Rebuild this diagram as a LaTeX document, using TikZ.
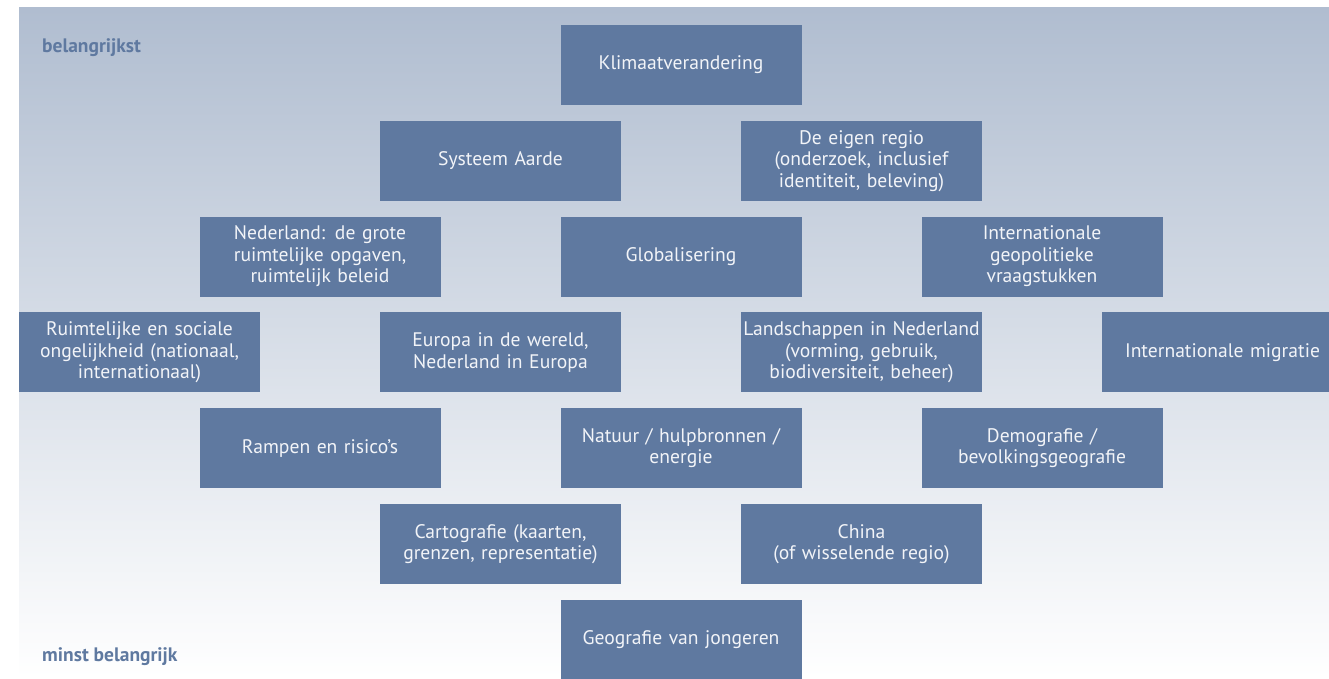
\documentclass[tikz,border=0pt]{standalone}
\usepackage{fontspec}
\setmainfont{PT Sans}
\usetikzlibrary{positioning}
\definecolor{boxblue}{HTML}{5F79A0}
\definecolor{boxtext}{HTML}{F2F4F8}
\definecolor{bgtop}{HTML}{B0BDD0}
\definecolor{bgmid}{HTML}{D3D9E5}
\tikzset{
  % topic box style
  topic/.style={
    fill=boxblue
    , text=boxtext
    , inner sep=0pt
    , minimum width=241pt
    , minimum height=80pt
    , text width=240pt
    , align=center
    , anchor=center
    , font=\fontsize{19.6}{21.5}\selectfont
  },
  % scale label style
  scalelbl/.style={
    text=boxblue
    , anchor=west
    , inner sep=0pt
    , font=\fontsize{19.5}{22}\selectfont\bfseries
  },
}
\begin{document}
\begin{tikzpicture}[node distance=95.8pt]
  \useasboundingbox (0,0) rectangle (1329pt,678pt);
  \clip (0,0) rectangle (1329pt,678pt);
  \shade[top color=bgtop, middle color=bgmid, bottom color=white] (19pt,0) rectangle (1329pt,670pt);

  \node[scalelbl] (top) at (42pt,630pt) {belangrijkst};
  \node[scalelbl] (bot) at (42pt,21pt) {minst belangrijk};

  \node[topic] (klim) at (681pt,613pt) {Klimaatverandering};
  \node[topic, below of=klim, xshift=-180.5pt] (sa) {Systeem Aarde};
  \node[topic, below of=klim, xshift=180.5pt] (er) {De eigen regio\\(onderzoek, inclusief\\identiteit, beleving)};
  \node[topic, below of=sa, xshift=-180.5pt] (nl) {Nederland: de grote\\ruimtelijke opgaven,\\ruimtelijk beleid};
  \node[topic, below of=sa, xshift=180.5pt] (glob) {Globalisering};
  \node[topic, below of=er, xshift=180.5pt] (gp) {Internationale\\geopolitieke\\vraagstukken};
  \node[topic, below of=nl, xshift=-180.5pt] (ro) {Ruimtelijke en sociale\\ongelijkheid (nationaal,\\internationaal)};
  \node[topic, below of=nl, xshift=180.5pt] (eu) {Europa in de wereld,\\Nederland in Europa};
  \node[topic, below of=glob, xshift=180.5pt] (la) {Landschappen in Nederland\\(vorming, gebruik,\\biodiversiteit, beheer)};
  \node[topic, below of=gp, xshift=180.5pt] (mi) {Internationale migratie};
  \node[topic, below of=ro, xshift=180.5pt] (ra) {Rampen en risico’s};
  \node[topic, below of=eu, xshift=180.5pt] (na) {Natuur / hulpbronnen /\\energie};
  \node[topic, below of=la, xshift=180.5pt] (de) {Demografie /\\bevolkingsgeografie};
  \node[topic, below of=ra, xshift=180.5pt] (ca) {Cartografie (kaarten,\\grenzen, representatie)};
  \node[topic, below of=na, xshift=180.5pt] (ch) {China\\(of wisselende regio)};
  \node[topic, below of=ca, xshift=180.5pt] (gj) {Geografie van jongeren};
\end{tikzpicture}
\end{document}
